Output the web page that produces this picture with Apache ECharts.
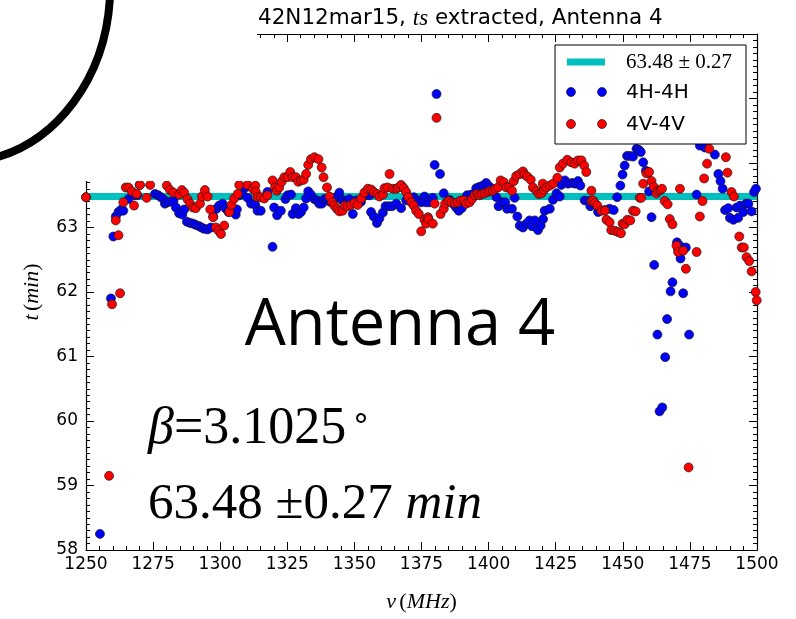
<!DOCTYPE html>
<html>
<head>
<meta charset="utf-8">
<script src="https://cdn.jsdelivr.net/npm/echarts@6/dist/echarts.min.js"></script>
<style>
  html, body { margin: 0; padding: 0; background: #ffffff; }
  #chart { width: 796px; height: 619px; }
</style>
</head>
<body>
<div id="chart"></div>
<script>
// Fitted delay and its uncertainty (minutes)
const fitMean = 63.48;
const fitErr = 0.27;

// Frequency axis (MHz) and delay axis (min)
const xTickValues = [1250, 1275, 1300, 1325, 1350, 1375, 1400, 1425, 1450, 1475, 1500];
const yTickValues = [58, 59, 60, 61, 62, 63, 64, 65, 66];

// 4H-4H baseline: frequency (MHz)
const hFreq = [
  1250.0, 1255.2, 1259.3, 1260.2, 1261.1, 1262.1, 1263.2, 1263.9, 1265.8, 1267.9,
  1269.1, 1270.0, 1275.7, 1276.9, 1277.9, 1278.8, 1279.4, 1280.3, 1281.3, 1282.6,
  1283.5, 1284.7, 1285.9, 1286.6, 1287.6, 1288.8, 1289.9, 1290.9, 1292.2, 1293.0,
  1294.0, 1295.3, 1296.5, 1297.4, 1298.6, 1299.6, 1300.9, 1302.1, 1303.1, 1304.4,
  1305.8, 1306.2, 1307.1, 1308.3, 1309.3, 1310.2, 1311.5, 1313.1, 1313.9, 1315.1,
  1317.6, 1319.5, 1320.1, 1321.2, 1322.6, 1324.3, 1325.1, 1326.4, 1327.0, 1328.2,
  1329.2, 1330.1, 1331.1, 1332.0, 1332.8, 1333.8, 1335.1, 1336.1, 1336.9, 1337.9,
  1338.8, 1340.0, 1341.0, 1343.1, 1344.4, 1345.3, 1346.3, 1347.2, 1348.1, 1349.4,
  1350.6, 1352.5, 1354.3, 1355.6, 1356.2, 1357.2, 1358.4, 1359.3, 1360.6, 1361.6,
  1362.8, 1364.0, 1365.6, 1367.4, 1369.3, 1370.5, 1372.1, 1373.4, 1374.9, 1376.1,
  1376.7, 1378.0, 1379.2, 1379.9, 1380.6, 1381.9, 1383.3, 1385.4, 1386.7, 1387.9,
  1388.9, 1390.0, 1391.0, 1392.0, 1393.5, 1395.4, 1396.6, 1397.9, 1399.1, 1400.4,
  1401.6, 1402.9, 1403.7, 1405.0, 1406.2, 1406.9, 1408.7, 1409.7, 1410.7, 1411.6,
  1412.8, 1414.1, 1415.3, 1416.2, 1417.2, 1418.4, 1419.4, 1420.3, 1420.9, 1422.8,
  1424.0, 1425.3, 1426.5, 1427.1, 1428.4, 1429.6, 1431.1, 1432.3, 1433.3, 1434.2,
  1435.8, 1437.1, 1437.9, 1438.9, 1440.8, 1443.3, 1445.1, 1446.6, 1447.9, 1449.1,
  1449.9, 1450.7, 1451.6, 1452.6, 1453.8, 1455.1, 1456.1, 1456.7, 1457.6, 1458.6,
  1459.4, 1459.8, 1460.7, 1461.7, 1462.9, 1463.7, 1464.7, 1465.8, 1466.5, 1467.8,
  1468.5, 1470.2, 1470.6, 1471.2, 1471.5, 1472.5, 1473.5, 1474.7, 1477.5, 1478.7,
  1480.6, 1484.3, 1485.6, 1486.4, 1487.2, 1488.1, 1489.3, 1489.9, 1491.2, 1492.4,
  1493.0, 1493.7, 1494.9, 1495.9, 1496.8, 1498.0, 1498.9, 1499.6
];
// 4H-4H baseline: extracted delay (min)
const hTime = [
  63.47, 58.25, 61.90, 62.86, 63.17, 63.24, 63.28, 63.26, 63.44, 63.50,
  63.50, 63.66, 63.52, 63.50, 63.47, 63.44, 63.37, 63.39, 63.40, 63.41,
  63.31, 63.22, 63.20, 63.28, 63.09, 63.07, 63.06, 63.04, 63.02, 63.00,
  62.98, 62.97, 63.00, 63.17, 63.29, 63.34, 63.37, 63.29, 63.24, 63.26,
  63.20, 63.28, 63.50, 63.52, 63.62, 63.46, 63.37, 63.35, 63.26, 63.26,
  63.55, 62.70, 63.31, 63.19, 63.26, 63.44, 63.50, 63.51, 63.21, 63.30,
  63.21, 63.24, 63.31, 63.45, 63.56, 63.51, 63.44, 63.42, 63.37, 63.37,
  63.44, 63.42, 63.40, 63.47, 63.54, 63.43, 63.42, 63.39, 63.44, 63.21,
  63.42, 63.40, 63.50, 63.50, 63.24, 63.17, 63.07, 63.14, 63.23, 63.33,
  63.33, 63.33, 63.37, 63.30, 63.42, 63.45, 63.47, 63.42, 63.39, 63.48,
  63.39, 63.39, 63.46, 63.97, 65.07, 63.83, 63.53, 63.43, 63.37, 63.31,
  63.26, 63.30, 63.43, 63.50, 63.51, 63.61, 63.63, 63.65, 63.69, 63.63,
  63.58, 63.47, 63.33, 63.39, 63.39, 63.29, 63.29, 63.46, 63.17, 63.03,
  63.00, 63.06, 63.11, 63.02, 63.11, 62.96, 63.03, 63.13, 63.26, 63.29,
  63.43, 63.53, 63.48, 63.66, 63.73, 63.68, 63.69, 63.68, 63.72, 63.65,
  63.42, 63.41, 63.33, 63.37, 63.24, 63.27, 63.29, 63.27, 63.47, 63.65,
  63.82, 63.96, 64.11, 64.11, 64.10, 64.22, 64.20, 64.17, 64.01, 63.88,
  63.86, 63.56, 63.16, 62.42, 61.34, 60.15, 60.21, 60.99, 61.58, 62.01,
  62.15, 62.77, 62.67, 62.72, 62.52, 61.98, 62.69, 61.34, 63.51, 64.27,
  64.24, 64.13, 63.83, 63.72, 63.60, 63.27, 63.30, 63.15, 63.12, 63.31,
  63.15, 63.34, 63.24, 63.37, 63.37, 63.25, 63.55, 63.60
];

// 4V-4V baseline: frequency (MHz)
const vFreq = [
  1250.0, 1258.6, 1259.7, 1261.1, 1262.1, 1262.7, 1263.9, 1264.8, 1265.8, 1267.1,
  1267.9, 1268.9, 1270.1, 1272.6, 1273.9, 1280.1, 1281.3, 1282.6, 1284.7, 1285.7,
  1286.6, 1287.8, 1288.8, 1289.9, 1290.9, 1292.5, 1293.2, 1294.3, 1295.3, 1296.3,
  1297.4, 1298.4, 1299.4, 1300.3, 1301.5, 1303.4, 1304.2, 1305.2, 1306.5, 1307.1,
  1310.2, 1312.1, 1313.1, 1313.3, 1313.9, 1315.1, 1316.4, 1317.6, 1319.5, 1320.4,
  1321.1, 1322.0, 1322.9, 1323.9, 1325.1, 1326.1, 1327.0, 1328.2, 1329.1, 1330.1,
  1331.1, 1332.0, 1332.8, 1333.8, 1335.1, 1336.6, 1337.8, 1338.5, 1339.8, 1340.7,
  1341.7, 1342.5, 1343.5, 1344.4, 1345.6, 1346.5, 1347.5, 1348.7, 1350.0, 1351.2,
  1352.5, 1353.7, 1355.0, 1356.2, 1357.2, 1358.4, 1359.3, 1360.6, 1361.2, 1362.4,
  1363.1, 1364.3, 1365.6, 1366.4, 1367.4, 1368.4, 1369.3, 1370.1, 1371.2, 1372.1,
  1373.0, 1374.0, 1374.9, 1376.1, 1376.7, 1377.4, 1377.6, 1379.2, 1379.9, 1380.6,
  1382.1, 1383.3, 1383.8, 1385.1, 1386.3, 1387.5, 1388.5, 1389.6, 1390.8, 1391.7,
  1392.9, 1393.8, 1394.8, 1395.8, 1396.6, 1397.5, 1398.5, 1399.7, 1400.7, 1401.6,
  1402.5, 1403.5, 1404.5, 1405.7, 1406.6, 1407.8, 1408.7, 1409.4, 1410.3, 1411.6,
  1412.8, 1413.4, 1414.4, 1415.7, 1416.5, 1417.8, 1418.7, 1419.7, 1420.2, 1420.6,
  1421.5, 1422.8, 1424.0, 1425.6, 1426.5, 1427.7, 1429.3, 1430.8, 1432.1, 1433.3,
  1434.6, 1435.6, 1436.4, 1438.3, 1438.3, 1438.9, 1439.6, 1440.5, 1442.0, 1443.3,
  1443.9, 1445.1, 1445.7, 1447.0, 1448.2, 1449.3, 1449.9, 1450.7, 1451.7, 1452.8,
  1453.8, 1454.8, 1456.3, 1456.9, 1457.6, 1458.8, 1459.8, 1460.7, 1461.5, 1462.5,
  1463.1, 1464.0, 1464.6, 1465.6, 1466.7, 1467.5, 1468.5, 1470.0, 1470.6, 1471.3,
  1472.5, 1473.5, 1474.5, 1477.5, 1478.7, 1479.7, 1480.3, 1481.4, 1482.2, 1488.4,
  1489.0, 1490.5, 1491.4, 1493.4, 1494.3, 1495.1, 1496.1, 1497.1, 1498.0, 1499.5,
  1499.9
];
// 4V-4V baseline: extracted delay (min)
const vTime = [
  63.47, 59.15, 61.81, 63.11, 62.88, 61.98, 63.39, 63.62, 63.62, 63.56,
  63.34, 63.52, 63.66, 63.46, 63.66, 63.65, 63.58, 63.54, 63.51, 63.58,
  63.54, 63.44, 63.37, 63.31, 63.30, 63.37, 63.48, 63.58, 63.48, 63.28,
  63.16, 63.00, 62.95, 62.90, 63.03, 63.24, 63.35, 63.45, 63.52, 63.66,
  63.66, 63.60, 63.65, 63.55, 63.47, 63.47, 63.45, 63.50, 63.73, 63.62,
  63.57, 63.62, 63.71, 63.78, 63.78, 63.86, 63.78, 63.78, 63.71, 63.73,
  63.74, 63.83, 63.97, 64.06, 64.09, 64.06, 63.93, 63.78, 63.62, 63.48,
  63.39, 63.34, 63.29, 63.25, 63.26, 63.34, 63.33, 63.35, 63.38, 63.35,
  63.45, 63.54, 63.60, 63.59, 63.55, 63.52, 63.48, 63.51, 63.61, 63.62,
  63.83, 63.60, 63.60, 63.62, 63.66, 63.61, 63.55, 63.47, 63.39, 63.34,
  63.26, 63.21, 62.94, 63.12, 63.06, 63.16, 63.13, 63.06, 63.37, 64.70,
  63.21, 63.29, 63.37, 63.41, 63.39, 63.38, 63.39, 63.42, 63.42, 63.37,
  63.39, 63.44, 63.50, 63.52, 63.50, 63.52, 63.53, 63.55, 63.57, 63.57,
  63.60, 63.62, 63.73, 63.70, 63.62, 63.62, 63.57, 63.72, 63.80, 63.83,
  63.87, 63.82, 63.79, 63.74, 63.62, 63.57, 63.52, 63.53, 63.68, 63.58,
  63.62, 63.65, 63.68, 63.77, 63.93, 63.99, 64.05, 64.01, 63.99, 64.04,
  64.04, 63.96, 63.86, 63.57, 63.41, 63.42, 63.38, 63.34, 63.26, 63.26,
  63.12, 63.08, 62.96, 62.95, 62.93, 62.91, 63.06, 63.05, 63.12, 63.11,
  63.26, 63.25, 63.46, 63.46, 63.68, 63.84, 63.86, 63.72, 63.63, 63.53,
  63.57, 63.58, 63.60, 63.41, 63.36, 63.13, 63.05, 62.72, 62.62, 63.60,
  62.64, 62.36, 59.28, 62.62, 63.17, 63.41, 63.76, 63.99, 64.22, 64.09,
  63.85, 63.55, 63.48, 62.86, 62.69, 62.69, 62.54, 62.48, 62.32, 62.00,
  61.87
];

const hPoints = hFreq.map((f, i) => [f, hTime[i]]);
const vPoints = vFreq.map((f, i) => [f, vTime[i]]);
const fitLine = [[xTickValues[0], fitMean], [xTickValues[xTickValues.length - 1], fitMean]];

const chart = echarts.init(document.getElementById('chart'), null, { renderer: 'canvas' });

const tickFont = { fontFamily: 'DejaVu Sans', fontSize: 17, color: '#000', formatter: (v) => String(v) };
const serif = 'Liberation Serif';

function frameAxis(extra) {
  return Object.assign({
    type: 'value',
    axisLine: { show: true, onZero: false, lineStyle: { color: '#000', width: 1.2 } },
    axisTick: { show: true, inside: true, length: 8, lineStyle: { color: '#000', width: 1 } },
    minorTick: { show: true, length: 4, lineStyle: { color: '#000', width: 1 } },
    splitLine: { show: false },
    minorSplitLine: { show: false }
  }, extra);
}

const xMin = xTickValues[0], xMax = xTickValues[xTickValues.length - 1];
const yMin = yTickValues[0], yMax = yTickValues[yTickValues.length - 1];
const markerSize = 9;

const option = {
  animation: false,
  backgroundColor: '#ffffff',
  grid: { left: 86, right: 39, top: 34, bottom: 69, containLabel: false },
  xAxis: [
    frameAxis({
      position: 'bottom', min: xMin, max: xMax, interval: 25,
      minorTick: { show: true, splitNumber: 5, length: 4, lineStyle: { color: '#000' } },
      axisLabel: Object.assign({ margin: 6 }, tickFont),
      name: '{i|ν} {u|(}{i|MHz}{u|)}',
      nameLocation: 'middle', nameGap: 41,
      nameTextStyle: {
        rich: {
          i: { fontFamily: serif, fontStyle: 'italic', fontSize: 22, color: '#000' },
          u: { fontFamily: serif, fontSize: 22, color: '#000' }
        }
      }
    }),
    frameAxis({
      position: 'top', min: xMin, max: xMax, interval: 25,
      minorTick: { show: true, splitNumber: 5, length: 4, lineStyle: { color: '#000' } },
      axisLabel: { show: false }
    })
  ],
  yAxis: [
    frameAxis({
      position: 'left', min: yMin, max: yMax, interval: 1,
      minorTick: { show: true, splitNumber: 10, length: 4, lineStyle: { color: '#000' } },
      axisLabel: Object.assign({ margin: 8 }, tickFont),
      name: '{i|t} {u|(}{i|min}{u|)}',
      nameLocation: 'middle', nameGap: 43, nameRotate: 90,
      nameTextStyle: {
        rich: {
          i: { fontFamily: serif, fontStyle: 'italic', fontSize: 22, color: '#000' },
          u: { fontFamily: serif, fontSize: 22, color: '#000' }
        }
      }
    }),
    frameAxis({
      position: 'right', min: yMin, max: yMax, interval: 1,
      minorTick: { show: true, splitNumber: 10, length: 4, lineStyle: { color: '#000' } },
      axisLabel: { show: false }
    })
  ],
  series: [
    {
      name: '63.48 ± 0.27',
      type: 'line',
      data: fitLine,
      symbol: 'none',
      lineStyle: { color: '#00bfbf', width: 7 },
      z: 1
    },
    {
      name: '4H-4H',
      type: 'scatter',
      data: hPoints,
      symbol: 'circle',
      symbolSize: markerSize,
      itemStyle: { color: '#0000ff', borderColor: '#1a1a1a', borderWidth: 0.7, opacity: 1 },
      z: 2
    },
    {
      name: '4V-4V',
      type: 'scatter',
      data: vPoints,
      symbol: 'circle',
      symbolSize: markerSize,
      itemStyle: { color: '#ff0000', borderColor: '#1a1a1a', borderWidth: 0.7, opacity: 1 },
      z: 3
    }
  ],
  graphic: [
    // panel that masks the upper-left corner of the axes
    { type: 'rect', z: 100, shape: { x: 0, y: 0, width: 257, height: 181 }, style: { fill: '#ffffff' } },
    // large black arc in the corner
    {
      type: 'bezierCurve', z: 101,
      shape: { x1: 110, y1: -4, cpx1: 106, cpy1: 80, cpx2: 55, cpy2: 142, x2: -6, y2: 158 },
      style: { stroke: '#000', lineWidth: 8, fill: null }
    },
    // title
    {
      type: 'text', z: 102, left: 258, top: 7,
      style: {
        text: '{a|42N12mar15, }{b|ts}{a| extracted, Antenna 4}',
        rich: {
          a: { fontFamily: 'DejaVu Sans', fontSize: 21.5, fill: '#000' },
          b: { fontFamily: serif, fontStyle: 'italic', fontSize: 23, fill: '#000' }
        }
      }
    },
    // legend box
    {
      type: 'group', z: 110,
      children: [
        { type: 'rect', z: 110, shape: { x: 555, y: 45, width: 191, height: 99 }, style: { fill: '#fff', stroke: '#000', lineWidth: 1 } },
        { type: 'line', z: 111, shape: { x1: 567, y1: 62, x2: 605, y2: 62 }, style: { stroke: '#00bfbf', lineWidth: 7 } },
        { type: 'text', z: 111, style: { text: '63.48 ± 0.27', x: 626, y: 62, textVerticalAlign: 'middle', font: '21px "Liberation Serif"', fill: '#000' } },
        { type: 'circle', z: 111, shape: { cx: 571, cy: 92, r: 4.5 }, style: { fill: '#0000ff', stroke: '#1a1a1a', lineWidth: 0.7 } },
        { type: 'circle', z: 111, shape: { cx: 602, cy: 92, r: 4.5 }, style: { fill: '#0000ff', stroke: '#1a1a1a', lineWidth: 0.7 } },
        { type: 'text', z: 111, style: { text: '4H-4H', x: 626, y: 93, textVerticalAlign: 'middle', font: '20px "DejaVu Sans"', fill: '#000' } },
        { type: 'circle', z: 111, shape: { cx: 571, cy: 124, r: 4.5 }, style: { fill: '#ff0000', stroke: '#1a1a1a', lineWidth: 0.7 } },
        { type: 'circle', z: 111, shape: { cx: 602, cy: 124, r: 4.5 }, style: { fill: '#ff0000', stroke: '#1a1a1a', lineWidth: 0.7 } },
        { type: 'text', z: 111, style: { text: '4V-4V', x: 626, y: 125, textVerticalAlign: 'middle', font: '20px "DejaVu Sans"', fill: '#000' } }
      ]
    },
    // slide annotations
    {
      type: 'text', z: 120,
      style: { text: 'Antenna 4', x: 400, y: 326, textAlign: 'center', textVerticalAlign: 'middle', font: '65px "Open Sans"', fill: '#000' }
    },
    {
      type: 'text', z: 120, left: 148, top: 403,
      style: {
        text: '{g|β}{n|=3.1025}{d|∘}',
        rich: {
          g: { fontFamily: serif, fontStyle: 'italic', fontSize: 52, fill: '#000' },
          n: { fontFamily: serif, fontSize: 52, fill: '#000' },
          d: { fontFamily: serif, fontSize: 32, fill: '#000', verticalAlign: 'top', padding: [0, 0, 20, 5] }
        }
      }
    },
    {
      type: 'text', z: 120, left: 148, top: 479,
      style: {
        text: '{n|63.48 ±0.27 }{i|min}',
        rich: {
          n: { fontFamily: serif, fontSize: 51, fill: '#000' },
          i: { fontFamily: serif, fontStyle: 'italic', fontSize: 51, fill: '#000' }
        }
      }
    }
  ]
};

chart.setOption(option);
</script>
</body>
</html>
